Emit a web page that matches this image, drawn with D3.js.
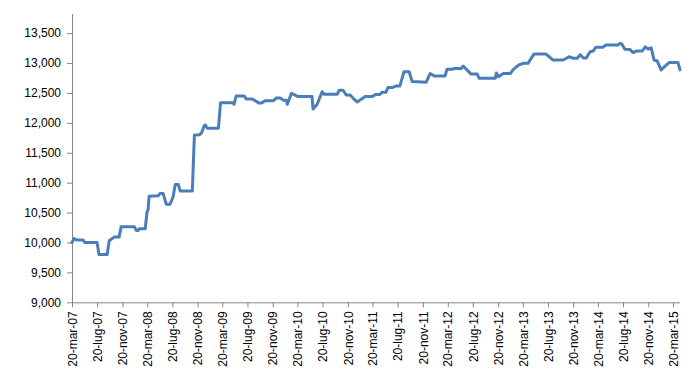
<!DOCTYPE html>
<html>
<head>
<meta charset="utf-8">
<script src="https://cdn.jsdelivr.net/npm/d3@7"></script>
<style>
  html, body { margin: 0; padding: 0; background: #fff; }
  svg { display: block; }
  text { font-family: "Liberation Sans", Arial, sans-serif; font-size: 12px; fill: #000; }
</style>
</head>
<body>
<svg id="chart" width="693" height="382"></svg>
<script>
// ---- data ----
const dates = [
  "2007-03-20","2007-03-30","2007-04-14","2007-05-13","2007-05-22","2007-07-20","2007-07-29","2007-09-07",
  "2007-09-17","2007-10-11","2007-11-04","2007-11-14","2008-01-17","2008-01-27","2008-02-05","2008-02-10",
  "2008-03-10","2008-03-19","2008-03-24","2008-03-29","2008-05-12","2008-05-21","2008-06-05","2008-06-20",
  "2008-07-09","2008-07-24","2008-08-03","2008-08-18","2008-08-27","2008-10-25","2008-11-04","2008-11-28",
  "2008-12-08","2008-12-22","2008-12-27","2009-01-06","2009-03-01","2009-03-11","2009-05-11","2009-05-16",
  "2009-05-26","2009-07-04","2009-07-14","2009-08-12","2009-09-15","2009-09-25","2009-10-14","2009-11-23",
  "2009-12-07","2009-12-26","2010-01-10","2010-01-25","2010-01-30","2010-02-19","2010-03-23","2010-05-30",
  "2010-06-04","2010-06-24","2010-07-18","2010-07-27","2010-09-30","2010-10-09","2010-10-28","2010-11-12",
  "2010-12-01","2010-12-16","2011-01-04","2011-02-13","2011-03-17","2011-04-06","2011-04-25","2011-05-05",
  "2011-05-24","2011-06-03","2011-06-23","2011-07-12","2011-07-31","2011-08-20","2011-09-14","2011-09-29",
  "2011-12-06","2011-12-25","2012-01-14","2012-03-07","2012-03-16","2012-04-10","2012-04-20","2012-05-24",
  "2012-06-03","2012-07-11","2012-08-10","2012-08-20","2012-11-06","2012-11-11","2012-11-21","2012-12-15",
  "2013-01-18","2013-02-02","2013-02-27","2013-03-21","2013-04-14","2013-04-24","2013-05-13","2013-07-11",
  "2013-08-14","2013-10-02","2013-10-31","2013-11-20","2013-12-09","2013-12-24","2014-01-08","2014-01-22",
  "2014-02-10","2014-02-25","2014-03-10","2014-04-13","2014-04-28","2014-06-25","2014-07-05","2014-07-14",
  "2014-07-29","2014-08-23","2014-09-07","2014-09-22","2014-10-21","2014-11-05","2014-11-19","2014-12-04",
  "2014-12-18","2015-01-02","2015-01-21","2015-02-15","2015-03-02","2015-04-13","2015-04-23"
];
const values = [
  10000,10065,10040,10040,10000,10000,9800,9800,
  10030,10090,10090,10265,10265,10200,10200,10230,
  10230,10515,10550,10775,10780,10820,10820,10640,
  10640,10770,10970,10970,10860,10860,11795,11800,
  11825,11950,11965,11910,11910,12335,12335,12310,
  12450,12450,12400,12400,12330,12330,12370,12370,
  12415,12415,12380,12380,12310,12495,12440,12440,
  12230,12310,12520,12480,12480,12545,12545,12465,
  12465,12410,12350,12440,12440,12475,12475,12510,
  12510,12590,12590,12615,12615,12855,12855,12690,
  12680,12825,12785,12785,12895,12895,12910,12910,
  12950,12815,12815,12745,12745,12835,12770,12825,
  12825,12895,12965,12995,12995,13050,13150,13150,
  13050,13050,13105,13080,13080,13140,13085,13085,
  13190,13200,13265,13265,13300,13300,13330,13320,
  13230,13225,13175,13200,13200,13270,13235,13255,
  13050,13035,12885,12965,13010,13010,12885
];
const tickDates = [
  "2007-03-20","2007-07-20","2007-11-20","2008-03-20","2008-07-20","2008-11-20","2009-03-20",
  "2009-07-20","2009-11-20","2010-03-20","2010-07-20","2010-11-20","2011-03-20","2011-07-20",
  "2011-11-20","2012-03-20","2012-07-20","2012-11-20","2013-03-20","2013-07-20","2013-11-20",
  "2014-03-20","2014-07-20","2014-11-20","2015-03-20"
];
const tickLabels = [
  "20-mar-07","20-lug-07","20-nov-07","20-mar-08","20-lug-08","20-nov-08","20-mar-09",
  "20-lug-09","20-nov-09","20-mar-10","20-lug-10","20-nov-10","20-mar-11","20-lug-11",
  "20-nov-11","20-mar-12","20-lug-12","20-nov-12","20-mar-13","20-lug-13","20-nov-13",
  "20-mar-14","20-lug-14","20-nov-14","20-mar-15"
];
const yTicks = [9000,9500,10000,10500,11000,11500,12000,12500,13000,13500];
const xStart = "2007-03-20", xEnd = "2015-04-23";
const yMin = 9000, yMax = 13820;

// ---- drawing ----
const parse = d3.timeParse("%Y-%m-%d");
const data = dates.map((d, i) => ({ date: parse(d), value: values[i] }));
const svg = d3.select("#chart");
const mLeft = 72, mRight = 680, mTop = 14, mBottom = 302.3;

const x = d3.scaleTime().domain([parse(xStart), parse(xEnd)]).range([mLeft, mRight]);
const y = d3.scaleLinear().domain([yMin, yMax]).range([mBottom, mTop]);

const axisColor = "#868686";

// Y axis
const yAxis = svg.append("g").attr("transform", `translate(${mLeft},0)`)
  .call(d3.axisLeft(y).tickValues(yTicks).tickSize(5).tickPadding(6).tickFormat(d3.format(",")));
yAxis.select(".domain").attr("stroke", axisColor).attr("d", `M0.5,${mTop}V${mBottom}`);
yAxis.selectAll(".tick line").attr("stroke", axisColor);
yAxis.selectAll(".tick text").attr("font-size", 12).attr("fill", "#000")
  .attr("font-family", '"Liberation Sans", Arial, sans-serif');

// X axis
const tickDateObjs = tickDates.map(parse);
const xAxis = svg.append("g").attr("transform", `translate(0,${mBottom})`)
  .call(d3.axisBottom(x).tickValues(tickDateObjs).tickSize(5)
    .tickFormat((d, i) => tickLabels[i]));
xAxis.select(".domain").attr("stroke", axisColor).attr("d", `M${mLeft},0.5H${mRight}`);
xAxis.selectAll(".tick line").attr("stroke", axisColor);
xAxis.selectAll(".tick text")
  .attr("font-size", 12).attr("fill", "#000")
  .attr("font-family", '"Liberation Sans", Arial, sans-serif')
  .attr("text-anchor", "end")
  .attr("dy", "0.35em")
  .attr("transform", "translate(0,9) rotate(-90)")
  .attr("x", 0).attr("y", 0);

// Line
const line = d3.line().x(d => x(d.date)).y(d => y(d.value)).curve(d3.curveLinear);
svg.append("path").datum(data)
  .attr("fill", "none")
  .attr("stroke", "#4a7ebb")
  .attr("stroke-width", 3)
  .attr("stroke-linejoin", "round")
  .attr("stroke-linecap", "round")
  .attr("d", line);
</script>
</body>
</html>
